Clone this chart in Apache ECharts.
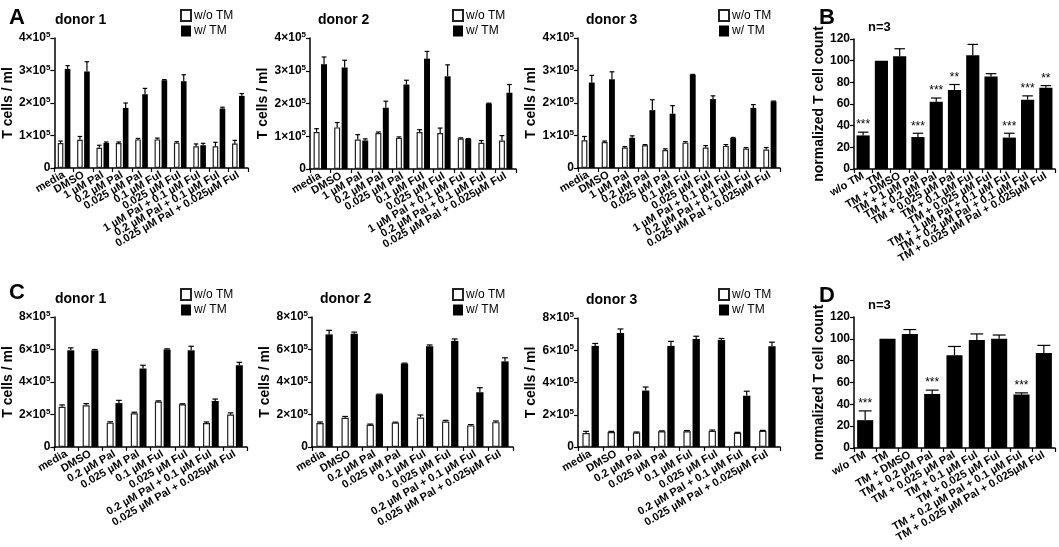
<!DOCTYPE html>
<html>
<head>
<meta charset="utf-8">
<title>T cell counts</title>
<script src="https://cdn.jsdelivr.net/npm/echarts@6/dist/echarts.min.js"></script>
<style>
  html, body { margin: 0; padding: 0; background: #fff; }
  #chart { width: 1059px; height: 547px; }
</style>
</head>
<body>
<div id="chart"></div>
<script>
// categories
const catsA = ["media", "DMSO", "1 µM Pal", "0.2 µM Pal", "0.025 µM Pal", "0.1 µM Ful", "0.025 µM Ful",
    "1 µM Pal + 0.1 µM Ful", "0.2 µM Pal + 0.1 µM Ful", "0.025 µM Pal + 0.025µM Ful"];
const catsB = ["w/o TM", "TM", "TM + DMSO", "TM + 1 µM Pal", "TM + 0.2 µM Pal", "TM + 0.025 µM Pal", "TM + 0.1 µM Ful",
    "TM + 0.025 µM Ful", "TM + 1 µM Pal + 0.1 µM Ful", "TM + 0.2 µM Pal + 0.1 µM Ful", "TM + 0.025 µM Pal + 0.025µM Ful"];
const catsC = ["media", "DMSO", "0.2 µM Pal", "0.025 µM Pal", "0.1 µM Ful", "0.025 µM Ful",
    "0.2 µM Pal + 0.1 µM Ful", "0.025 µM Pal + 0.025µM Ful"];
const catsD = ["w/o TM", "TM", "TM + DMSO", "TM + 0.2 µM Pal", "TM + 0.025 µM Pal", "TM + 0.1 µM Ful",
    "TM + 0.025 µM Ful", "TM + 0.2 µM Pal + 0.1 µM Ful", "TM + 0.025 µM Pal + 0.025µM Ful"];

// panel A, T cells / ml in units of 10^5
const a1Without = [0.77, 0.87, 0.62, 0.77, 0.88, 0.88, 0.78, 0.67, 0.67, 0.75];
const a1WithoutErr = [0.06, 0.1, 0.08, 0.03, 0.03, 0.04, 0.03, 0.07, 0.12, 0.1];
const a1With = [3.05, 2.97, 0.77, 1.85, 2.27, 2.70, 2.67, 0.70, 1.83, 2.22];
const a1WithErr = [0.1, 0.3, 0.03, 0.15, 0.18, 0.02, 0.2, 0.06, 0.04, 0.07];

const a2Without = [1.13, 1.27, 0.9, 1.1, 0.95, 1.13, 1.1, 0.93, 0.8, 0.87];
const a2WithoutErr = [0.1, 0.15, 0.15, 0.03, 0.03, 0.07, 0.15, 0.02, 0.07, 0.15];
const a2With = [3.2, 3.1, 0.87, 1.87, 2.58, 3.37, 2.83, 0.92, 2.0, 2.33];
const a2WithErr = [0.22, 0.22, 0.05, 0.2, 0.13, 0.22, 0.35, 0.01, 0.01, 0.25];

const a3Without = [0.85, 0.8, 0.63, 0.7, 0.55, 0.78, 0.63, 0.68, 0.6, 0.57];
const a3WithoutErr = [0.12, 0.03, 0.03, 0.02, 0.04, 0.03, 0.06, 0.04, 0.03, 0.06];
const a3With = [2.63, 2.73, 0.93, 1.78, 1.67, 2.87, 2.12, 0.92, 1.85, 2.05];
const a3WithErr = [0.22, 0.23, 0.06, 0.32, 0.25, 0.01, 0.1, 0.02, 0.1, 0.01];

// panel B, normalized
const bValues = [31, 100, 104, 29.5, 62, 73, 105, 85.5, 29, 64, 75];
const bErr = [3, 0, 7, 3.5, 3.5, 5, 10, 2.5, 4, 3.5, 2];
const bStars = ["***", "", "", "***", "***", "**", "", "", "***", "***", "**"];

// panel C, T cells / ml in units of 10^5
const c1Without = [2.47, 2.57, 1.5, 2.07, 2.8, 2.63, 1.47, 2.0];
const c1WithoutErr = [0.12, 0.1, 0.05, 0.07, 0.04, 0.03, 0.07, 0.1];
const c1With = [5.95, 5.95, 2.7, 4.83, 6.0, 5.95, 2.83, 5.03];
const c1WithErr = [0.15, 0.05, 0.17, 0.2, 0.04, 0.25, 0.12, 0.18];

const c2Without = [1.47, 1.8, 1.37, 1.5, 1.82, 1.57, 1.33, 1.53];
const c2WithoutErr = [0.07, 0.08, 0.04, 0.03, 0.15, 0.07, 0.05, 0.07];
const c2With = [6.93, 6.97, 3.23, 5.13, 6.2, 6.53, 3.37, 5.27];
const c2WithErr = [0.25, 0.1, 0.02, 0.03, 0.08, 0.12, 0.28, 0.22];

const c3Without = [0.87, 0.93, 0.9, 0.97, 0.97, 1.0, 0.88, 1.0];
const c3WithoutErr = [0.1, 0.04, 0.03, 0.03, 0.05, 0.05, 0.03, 0.03];
const c3With = [6.27, 7.07, 3.5, 6.27, 6.7, 6.63, 3.18, 6.25];
const c3WithErr = [0.15, 0.25, 0.22, 0.28, 0.17, 0.1, 0.28, 0.25];

// panel D, normalized
const dValues = [25.5, 100, 104.5, 49.5, 85, 99, 100, 49, 87];
const dErr = [8.5, 0, 4, 3.5, 8, 5.5, 3.5, 1.5, 7];
const dStars = ["***", "", "", "***", "", "", "", "***", ""];

const FONT = "Liberation Sans, Arial, sans-serif";

window.renderFigure = function () {
    const div = document.getElementById("chart");
    if (!div) return;
    const chart = echarts.init(div);

    const grids = [];
    const xAxes = [];
    const yAxes = [];
    const series = [];
    const titles = [];
    const legends = [];

    const BAR_W = 0.29;
    const BAR_GAP = 0.25;

    function errorBars(gi, values, errs, sign, widthFrac, gapFrac, stars) {
        const data = values.map((v, i) => [i, v, errs[i]]);
        return {
            type: "custom",
            xAxisIndex: gi,
            yAxisIndex: gi,
            z: 5,
            silent: true,
            data: data,
            renderItem: function (params, api) {
                const x = api.value(0), v = api.value(1), e = api.value(2);
                const base = api.coord([x, v]);
                const top = api.coord([x, v + e]);
                const band = api.size([1, 0])[0];
                const bw = band * widthFrac;
                const cx = base[0] + sign * (bw / 2 + bw * gapFrac / 2);
                const cap = bw * 0.4;
                const style = { stroke: "#000", lineWidth: 1.2 };
                const children = [];
                if (e > 0) {
                    children.push({ type: "line", shape: { x1: cx, y1: base[1], x2: cx, y2: top[1] }, style: style });
                    children.push({ type: "line", shape: { x1: cx - cap, y1: top[1], x2: cx + cap, y2: top[1] }, style: style });
                }
                const s = stars ? stars[params.dataIndex] : "";
                if (s) {
                    children.push({
                        type: "text",
                        style: { text: s, x: cx, y: top[1] - 1, align: "center", verticalAlign: "bottom",
                            font: "12px " + FONT, fill: "#000" }
                    });
                }
                return { type: "group", children: children };
            }
        };
    }

    function axes(gi, cats, yMax, yStep, isCount, yName) {
        xAxes.push({
            type: "category",
            gridIndex: gi,
            data: cats,
            axisLine: { lineStyle: { color: "#000", width: 1.5 } },
            axisTick: { show: true, length: 4, lineStyle: { color: "#000", width: 1.2 } },
            axisLabel: { interval: 0, rotate: 30, margin: 6, fontSize: 11, fontWeight: "bold", color: "#000", fontFamily: FONT },
            splitLine: { show: false }
        });
        yAxes.push({
            type: "value",
            gridIndex: gi,
            min: 0,
            max: yMax,
            interval: yStep,
            name: yName,
            nameLocation: "middle",
            nameGap: isCount ? 33 : 27,
            nameTextStyle: { fontSize: 14, fontWeight: "bold", color: "#000", fontFamily: FONT },
            axisLine: { show: true, lineStyle: { color: "#000", width: 1.5 } },
            axisTick: { show: true, length: 4, lineStyle: { color: "#000", width: 1.2 } },
            splitLine: { show: false },
            axisLabel: {
                margin: 4,
                color: "#000",
                fontFamily: FONT,
                fontSize: 12,
                fontWeight: "bold",
                formatter: isCount
                    ? function (v) { return v === 0 ? "{m|0}" : "{m|" + v + "×10}{s|5}"; }
                    : "{value}",
                rich: {
                    m: { fontSize: 12, fontWeight: "bold", fontFamily: FONT, color: "#000", lineHeight: 14 },
                    s: { fontSize: 8, fontWeight: "bold", fontFamily: FONT, color: "#000", lineHeight: 8, verticalAlign: "top" }
                }
            }
        });
    }

    function donorPanel(box, title, cats, without, withoutErr, withTm, withErr, yMax, yStep, legendPos) {
        const gi = grids.length;
        grids.push(box);
        axes(gi, cats, yMax, yStep, true, "T cells / ml");
        series.push({
            name: "w/o TM",
            type: "bar",
            xAxisIndex: gi,
            yAxisIndex: gi,
            data: without,
            barWidth: (BAR_W * 100) + "%",
            barGap: (BAR_GAP * 100) + "%",
            itemStyle: { color: "#fff", borderColor: "#222", borderWidth: 1.2 }
        });
        series.push({
            name: "w/ TM",
            type: "bar",
            xAxisIndex: gi,
            yAxisIndex: gi,
            data: withTm,
            barWidth: (BAR_W * 100) + "%",
            barGap: (BAR_GAP * 100) + "%",
            itemStyle: { color: "#000" }
        });
        series.push(errorBars(gi, without, withoutErr, -1, BAR_W, BAR_GAP, null));
        series.push(errorBars(gi, withTm, withErr, 1, BAR_W, BAR_GAP, null));
        titles.push({ text: title, left: box.left + 3, top: box.top - 30,
            textStyle: { fontSize: 14, fontWeight: "bold", color: "#000", fontFamily: FONT } });
        legends.push({
            data: ["w/o TM", "w/ TM"],
            orient: "vertical",
            left: legendPos[0],
            top: legendPos[1],
            icon: "rect",
            itemWidth: 10,
            itemHeight: 11,
            itemGap: 3,
            selectedMode: false,
            padding: 0,
            textStyle: { fontSize: 12, color: "#000", fontFamily: FONT, padding: [0, 0, 0, -2] }
        });
    }

    function normPanel(box, cats, values, errs, stars) {
        const gi = grids.length;
        grids.push(box);
        axes(gi, cats, 120, 20, false, "normalized T cell count");
        series.push({
            name: "normalized",
            type: "bar",
            xAxisIndex: gi,
            yAxisIndex: gi,
            data: values,
            barWidth: "72%",
            itemStyle: { color: "#000" }
        });
        series.push(errorBars(gi, values, errs, 0, 0.72, 0, stars));
        titles.push({ text: "n=3", left: box.left + 9, top: box.top - 23,
            textStyle: { fontSize: 13, fontWeight: "bold", color: "#000", fontFamily: FONT } });
    }

    donorPanel({ left: 47, top: 38, width: 201, height: 130 }, "donor 1", catsA, a1Without, a1WithoutErr, a1With, a1WithErr, 4, 1, [180, 9]);
    donorPanel({ left: 310, top: 38, width: 206, height: 131 }, "donor 2", catsA, a2Without, a2WithoutErr, a2With, a2WithErr, 4, 1, [452, 9]);
    donorPanel({ left: 578, top: 38, width: 202, height: 130 }, "donor 3", catsA, a3Without, a3WithoutErr, a3With, a3WithErr, 4, 1, [718, 9]);
    normPanel({ left: 854, top: 39, width: 201, height: 130 }, catsB, bValues, bErr, bStars);
    donorPanel({ left: 47, top: 317, width: 200, height: 130 }, "donor 1", catsC, c1Without, c1WithoutErr, c1With, c1WithErr, 8, 2, [180, 288]);
    donorPanel({ left: 312, top: 317, width: 201, height: 130 }, "donor 2", catsC, c2Without, c2WithoutErr, c2With, c2WithErr, 8, 2, [452, 288]);
    donorPanel({ left: 578, top: 318, width: 202, height: 129 }, "donor 3", catsC, c3Without, c3WithoutErr, c3With, c3WithErr, 8, 2, [718, 288]);
    normPanel({ left: 854, top: 317, width: 201, height: 131 }, catsD, dValues, dErr, dStars);

    const letterStyle = { fontSize: 22, fontWeight: "bold", color: "#000", fontFamily: FONT };
    titles.push({ text: "A", left: 4, top: 2, textStyle: letterStyle });
    titles.push({ text: "B", left: 814, top: 2, textStyle: letterStyle });
    titles.push({ text: "C", left: 4, top: 277, textStyle: letterStyle });
    titles.push({ text: "D", left: 814, top: 280, textStyle: letterStyle });

    const option = {
        animation: false,
        backgroundColor: "#fff",
        textStyle: { fontFamily: FONT, color: "#000" },
        title: titles,
        legend: legends,
        grid: grids,
        xAxis: xAxes,
        yAxis: yAxes,
        series: series
    };

    chart.setOption(option);
    chart.resize();
};

window.renderFigure();
</script>
</body>
</html>
